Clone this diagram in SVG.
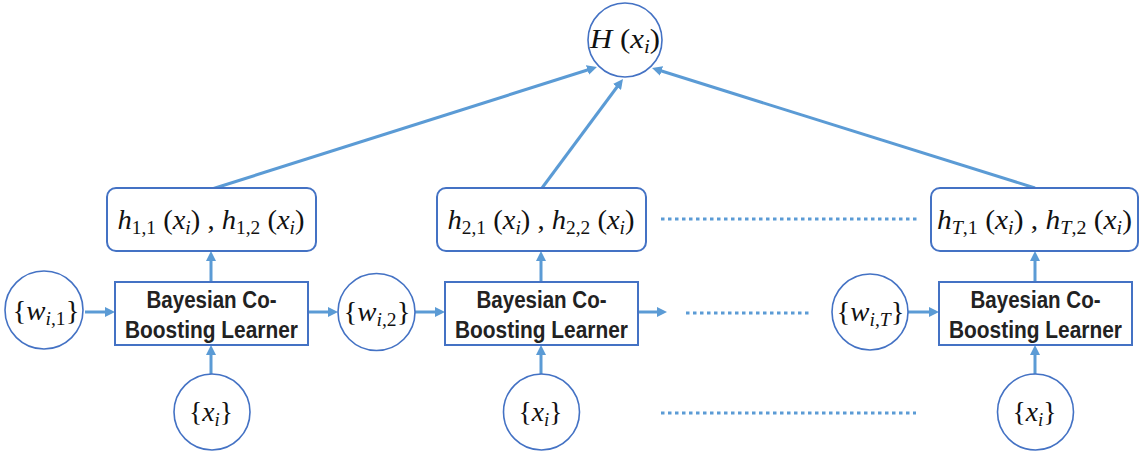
<svg xmlns="http://www.w3.org/2000/svg" width="1140" height="453" viewBox="0 0 1140 453">
  <style>
    .node { fill: #ffffff; stroke: #4472C4; stroke-width: 1.6; }
    .box { fill: #ffffff; stroke: #4472C4; stroke-width: 2; }
    .link { fill: none; stroke: #5B9BD5; stroke-width: 3; }
    .dots { fill: none; stroke: #5B9BD5; stroke-width: 3; stroke-dasharray: 3.5 3.5; }
    .m { font-family: "Liberation Serif", "DejaVu Serif", serif; font-size: 28px; fill: #111; }
    .it { font-style: italic; }
    .sub { font-size: 19px; }
    .lbl { font-family: "Liberation Sans", Arial, sans-serif; font-weight: bold; font-size: 23px; fill: #222; text-anchor: middle; }
  </style>
  <defs>
    <marker id="head" viewBox="0 0 10 10" refX="5" refY="5" markerWidth="10" markerHeight="10" markerUnits="userSpaceOnUse" orient="auto">
      <path d="M0,0 L10,5 L0,10 z" fill="#5B9BD5"/>
    </marker>
  </defs>

  <!-- connectors -->
  <g id="connectors">
    <!-- weights into learners, learners onward -->
    <line class="link" x1="85" y1="312" x2="110" y2="312" marker-end="url(#head)"/>
    <line class="link" x1="307" y1="312" x2="333" y2="312" marker-end="url(#head)"/>
    <line class="link" x1="415" y1="312" x2="440" y2="312" marker-end="url(#head)"/>
    <line class="link" x1="637" y1="312" x2="662" y2="312" marker-end="url(#head)"/>
    <line class="link" x1="908" y1="312" x2="934" y2="312" marker-end="url(#head)"/>
    <!-- samples into learners -->
    <line class="link" x1="211" y1="374" x2="211" y2="350" marker-end="url(#head)"/>
    <line class="link" x1="541" y1="374" x2="541" y2="350" marker-end="url(#head)"/>
    <line class="link" x1="1035" y1="374" x2="1035" y2="350" marker-end="url(#head)"/>
    <!-- learners to hypotheses -->
    <line class="link" x1="211" y1="282" x2="211" y2="256" marker-end="url(#head)"/>
    <line class="link" x1="541" y1="282" x2="541" y2="256" marker-end="url(#head)"/>
    <line class="link" x1="1035" y1="282" x2="1035" y2="256" marker-end="url(#head)"/>
    <!-- hypotheses to final classifier -->
    <line class="link" x1="212" y1="189" x2="592.2" y2="68.5" marker-end="url(#head)"/>
    <line class="link" x1="542" y1="188" x2="620" y2="83" marker-end="url(#head)"/>
    <line class="link" x1="1035" y1="188" x2="656.8" y2="69.5" marker-end="url(#head)"/>
    <!-- ellipses for the omitted rounds -->
    <line class="dots" x1="661" y1="219" x2="917" y2="219"/>
    <line class="dots" x1="686" y1="313" x2="812" y2="313"/>
    <line class="dots" x1="661" y1="413" x2="916" y2="413"/>
  </g>

  <!-- final classifier -->
  <g id="H">
    <circle class="node" cx="625" cy="40" r="37"/>
    <text class="m" x="625" y="48" text-anchor="middle" textLength="70" lengthAdjust="spacingAndGlyphs"><tspan class="it">H</tspan> (<tspan class="it">x</tspan><tspan class="sub it" dy="5">i</tspan><tspan dy="-5">)</tspan></text>
  </g>

  <!-- hypotheses -->
  <g id="h1">
    <rect class="box" x="107" y="188" width="209" height="63" rx="9"/>
    <text class="m" x="211" y="229" text-anchor="middle" textLength="187" lengthAdjust="spacingAndGlyphs"><tspan class="it">h</tspan><tspan class="sub" dy="5">1,1</tspan><tspan dy="-5"> (</tspan><tspan class="it">x</tspan><tspan class="sub it" dy="5">i</tspan><tspan dy="-5">) , </tspan><tspan class="it">h</tspan><tspan class="sub" dy="5">1,2</tspan><tspan dy="-5"> (</tspan><tspan class="it">x</tspan><tspan class="sub it" dy="5">i</tspan><tspan dy="-5">)</tspan></text>
  </g>
  <g id="h2">
    <rect class="box" x="437" y="188" width="209" height="63" rx="9"/>
    <text class="m" x="541" y="229" text-anchor="middle" textLength="187" lengthAdjust="spacingAndGlyphs"><tspan class="it">h</tspan><tspan class="sub" dy="5">2,1</tspan><tspan dy="-5"> (</tspan><tspan class="it">x</tspan><tspan class="sub it" dy="5">i</tspan><tspan dy="-5">) , </tspan><tspan class="it">h</tspan><tspan class="sub" dy="5">2,2</tspan><tspan dy="-5"> (</tspan><tspan class="it">x</tspan><tspan class="sub it" dy="5">i</tspan><tspan dy="-5">)</tspan></text>
  </g>
  <g id="hT">
    <rect class="box" x="931" y="188" width="207" height="63" rx="9"/>
    <text class="m" x="1034.5" y="229" text-anchor="middle" textLength="195" lengthAdjust="spacingAndGlyphs"><tspan class="it">h</tspan><tspan class="sub" dy="5"><tspan class="it">T</tspan>,1</tspan><tspan dy="-5"> (</tspan><tspan class="it">x</tspan><tspan class="sub it" dy="5">i</tspan><tspan dy="-5">) , </tspan><tspan class="it">h</tspan><tspan class="sub" dy="5"><tspan class="it">T</tspan>,2</tspan><tspan dy="-5"> (</tspan><tspan class="it">x</tspan><tspan class="sub it" dy="5">i</tspan><tspan dy="-5">)</tspan></text>
  </g>

  <!-- learners -->
  <g id="learner1">
    <rect class="box" x="115" y="282" width="193" height="63"/>
    <text class="lbl" x="211.5" y="308" textLength="130" lengthAdjust="spacingAndGlyphs">Bayesian Co-</text>
    <text class="lbl" x="211.5" y="338" textLength="173" lengthAdjust="spacingAndGlyphs">Boosting Learner</text>
  </g>
  <g id="learner2">
    <rect class="box" x="445" y="282" width="193" height="63"/>
    <text class="lbl" x="541.5" y="308" textLength="130" lengthAdjust="spacingAndGlyphs">Bayesian Co-</text>
    <text class="lbl" x="541.5" y="338" textLength="173" lengthAdjust="spacingAndGlyphs">Boosting Learner</text>
  </g>
  <g id="learnerT">
    <rect class="box" x="939" y="282" width="193" height="63"/>
    <text class="lbl" x="1035.5" y="308" textLength="130" lengthAdjust="spacingAndGlyphs">Bayesian Co-</text>
    <text class="lbl" x="1035.5" y="338" textLength="173" lengthAdjust="spacingAndGlyphs">Boosting Learner</text>
  </g>

  <!-- sample weights -->
  <g id="w1">
    <circle class="node" cx="44" cy="310" r="39"/>
    <text class="m" x="46" y="320" text-anchor="middle" textLength="67" lengthAdjust="spacingAndGlyphs">{<tspan class="it">w</tspan><tspan class="sub" dy="5"><tspan class="it">i</tspan>,1</tspan><tspan dy="-5">}</tspan></text>
  </g>
  <g id="w2">
    <circle class="node" cx="376.5" cy="312" r="38.5"/>
    <text class="m" x="377" y="321" text-anchor="middle" textLength="67" lengthAdjust="spacingAndGlyphs">{<tspan class="it">w</tspan><tspan class="sub" dy="5"><tspan class="it">i</tspan>,2</tspan><tspan dy="-5">}</tspan></text>
  </g>
  <g id="wT">
    <circle class="node" cx="870" cy="312" r="38"/>
    <text class="m" x="870.5" y="321" text-anchor="middle" textLength="68" lengthAdjust="spacingAndGlyphs">{<tspan class="it">w</tspan><tspan class="sub" dy="5"><tspan class="it">i</tspan>,<tspan class="it">T</tspan></tspan><tspan dy="-5">}</tspan></text>
  </g>

  <!-- training samples -->
  <g id="x1">
    <circle class="node" cx="212" cy="412" r="38"/>
    <text class="m" x="211" y="421" text-anchor="middle" textLength="44" lengthAdjust="spacingAndGlyphs">{<tspan class="it">x</tspan><tspan class="sub it" dy="5">i</tspan><tspan dy="-5">}</tspan></text>
  </g>
  <g id="x2">
    <circle class="node" cx="541.5" cy="412" r="38"/>
    <text class="m" x="540.5" y="421" text-anchor="middle" textLength="44" lengthAdjust="spacingAndGlyphs">{<tspan class="it">x</tspan><tspan class="sub it" dy="5">i</tspan><tspan dy="-5">}</tspan></text>
  </g>
  <g id="xT">
    <circle class="node" cx="1035.5" cy="412" r="38"/>
    <text class="m" x="1034.5" y="421" text-anchor="middle" textLength="44" lengthAdjust="spacingAndGlyphs">{<tspan class="it">x</tspan><tspan class="sub it" dy="5">i</tspan><tspan dy="-5">}</tspan></text>
  </g>
</svg>
